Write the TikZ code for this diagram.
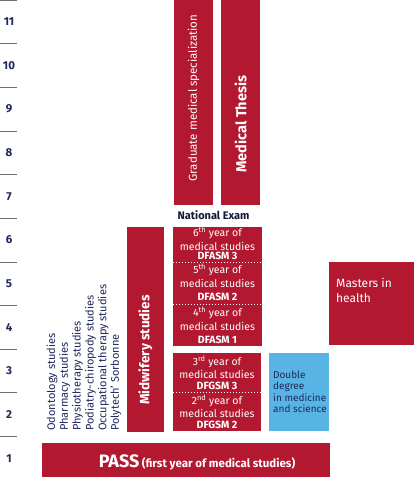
\documentclass[tikz,border=0pt]{standalone}
\usepackage{fontspec}
\setmainfont{Fira Sans}
\definecolor{redbox}{RGB}{178,24,48}
\definecolor{navy}{RGB}{30,40,90}
\definecolor{bluebox}{RGB}{88,180,228}
\definecolor{axisgray}{RGB}{110,110,120}
\begin{document}
\begin{tikzpicture}[x=1pt,y=-1pt,
  rbox/.style={fill=redbox, draw=none, inner sep=0pt, anchor=north west},
  bbox/.style={fill=bluebox, draw=none, inner sep=0pt, anchor=north west},
  axisnum/.style={text=navy, font=\fontsize{11.5}{13}\selectfont\bfseries},
  listtxt/.style={text=navy, rotate=90, anchor=west, inner sep=0pt, font=\fontsize{11}{12}\selectfont},
  yeartxt/.style={text=white, inner sep=0pt, font=\fontsize{10.5}{12.5}\selectfont},
  codetxt/.style={text=white, inner sep=0pt, font=\fontsize{10.5}{12.5}\selectfont\bfseries},
  sep/.style={white, dotted, line width=1pt}
]
\useasboundingbox (0,0) rectangle (414,480);
% axis
\foreach \k in {0,...,11} {
  \draw[axisgray, line width=0.6pt] (0,{480-\k*43.636}) -- (17,{480-\k*43.636});
}
\foreach \k in {1,...,11} {
  \node[axisnum] (n\k) at (9,{480-(\k-0.5)*43.636}) {\k};
}
% PASS
\node[rbox, minimum width=288pt, minimum height=34pt] (pass) at (42,443) {};
\node[text=white, font=\bfseries] (passtxt) at (197,462) {{\fontsize{18}{20}\selectfont PASS} {\fontsize{11.5}{13}\selectfont (first year of medical studies)}};
% list
\node[listtxt] (l1) at (52,431) {Odontology studies};
\node[listtxt] (l2) at (64.8,431) {Pharmacy studies};
\node[listtxt] (l3) at (77.6,431) {Physiotherapy studies};
\node[listtxt] (l4) at (90.4,431) {Podiatry-chiropody studies};
\node[listtxt] (l5) at (103.2,431) {Occupational therapy studies};
\node[listtxt] (l6) at (116,431) {Polytech' Sorbonne};
% Midwifery
\node[rbox, minimum width=37pt, minimum height=205pt] (mid) at (127,227) {};
\node[text=white, rotate=90, font=\fontsize{13.5}{15}\selectfont\bfseries] (midtxt) at (145.5,350) {Midwifery studies};
% Graduate / Thesis
\node[rbox, minimum width=39pt, minimum height=205pt] (grad) at (174,0) {};
\node[text=white, rotate=90, font=\fontsize{11.5}{13}\selectfont] (gradtxt) at (193.5,98) {Graduate medical specialization};
\node[rbox, minimum width=39pt, minimum height=205pt] (thesis) at (221,0) {};
\node[text=white, rotate=90, font=\fontsize{14.5}{16}\selectfont\bfseries] (thesistxt) at (240.5,124) {Medical Thesis};
\node[text=navy!60!black, font=\fontsize{11}{12}\selectfont\bfseries] (exam) at (213.5,215) {National Exam};
% DFASM
\node[rbox, minimum width=89pt, minimum height=119pt] (dfasm) at (173,227) {};
\draw[sep] (173,262) -- (262,262);
\draw[sep] (173,304) -- (262,304);
\node[yeartxt] (y6a) at (217.5,233) {6\textsuperscript{th} year of};
\node[yeartxt] (y6b) at (217.5,246) {medical studies};
\node[codetxt] (y6c) at (217.5,256) {DFASM 3};
\node[yeartxt] (y5a) at (217.5,270) {5\textsuperscript{th} year of};
\node[yeartxt] (y5b) at (217.5,283) {medical studies};
\node[codetxt] (y5c) at (217.5,297) {DFASM 2};
\node[yeartxt] (y4a) at (217.5,313) {4\textsuperscript{th} year of};
\node[yeartxt] (y4b) at (217.5,326) {medical studies};
\node[codetxt] (y4c) at (217.5,340) {DFASM 1};
% DFGSM
\node[rbox, minimum width=88pt, minimum height=78pt] (dfgsm) at (173,353) {};
\draw[sep] (173,392) -- (261,392);
\node[yeartxt] (y3a) at (217,362) {3\textsuperscript{rd} year of};
\node[yeartxt] (y3b) at (217,374) {medical studies};
\node[codetxt] (y3c) at (217,386) {DFGSM 3};
\node[yeartxt] (y2a) at (217,401) {2\textsuperscript{nd} year of};
\node[yeartxt] (y2b) at (217,413) {medical studies};
\node[codetxt] (y2c) at (217,425) {DFGSM 2};
% Double degree
\node[bbox, minimum width=60pt, minimum height=78pt] (dd) at (269,353) {};
\node[text=navy, align=left, anchor=west, inner sep=0pt, font=\fontsize{10}{11.5}\selectfont] (ddtxt) at (273,392) {Double\\degree\\in medicine\\and science};
% Masters
\node[rbox, minimum width=85pt, minimum height=83pt] (mast) at (329,262) {};
\node[text=white, align=left, anchor=west, inner sep=0pt, font=\fontsize{12}{15}\selectfont] (masttxt) at (336,290) {Masters in\\health};
\end{tikzpicture}
\end{document}
